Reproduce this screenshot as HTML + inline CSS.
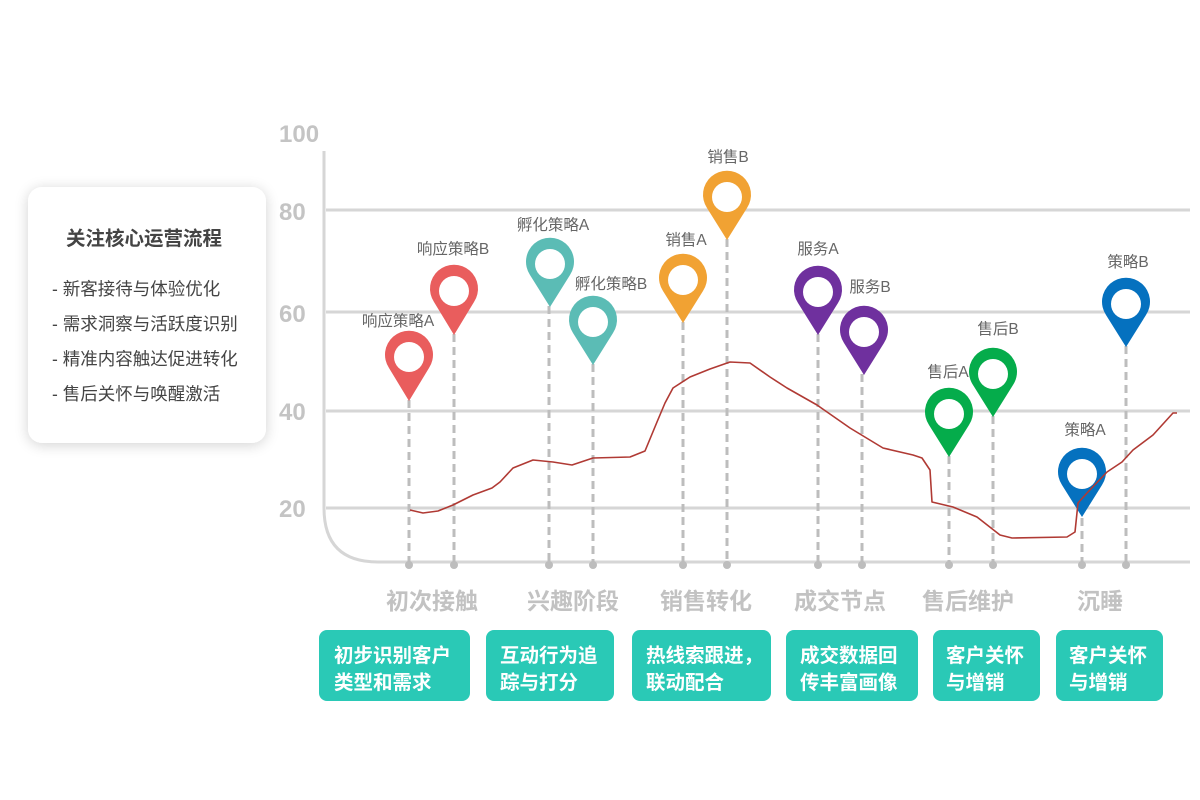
<!DOCTYPE html>
<html><head><meta charset="utf-8"><style>
html,body{margin:0;padding:0;background:#fff;width:1200px;height:800px;overflow:hidden}
svg{display:block}
</style></head><body>
<svg width="1200" height="800" viewBox="0 0 1200 800" xmlns="http://www.w3.org/2000/svg" font-family="Liberation Sans, Noto Sans CJK SC, sans-serif">
<defs>
<filter id="sh" x="-20%" y="-20%" width="140%" height="140%"><feGaussianBlur in="SourceAlpha" stdDeviation="7"/><feOffset dy="2"/><feComponentTransfer><feFuncA type="linear" slope="0.18"/></feComponentTransfer><feMerge><feMergeNode/><feMergeNode in="SourceGraphic"/></feMerge></filter>
</defs>
<rect x="28" y="187" width="238" height="256" rx="14" fill="#fff" filter="url(#sh)"/>
<text x="144" y="245" text-anchor="middle" font-size="19.5" font-weight="bold" fill="#444">关注核心运营流程</text>
<g font-size="17.5" fill="#444">
<text x="52" y="295">- 新客接待与体验优化</text>
<text x="52" y="330">- 需求洞察与活跃度识别</text>
<text x="52" y="365">- 精准内容触达促进转化</text>
<text x="52" y="400">- 售后关怀与唤醒激活</text>
</g>
<g font-size="24" font-weight="bold" fill="#c4c4c4">
<text x="279" y="142">100</text>
<text x="279" y="220">80</text>
<text x="279" y="322">60</text>
<text x="279" y="420">40</text>
<text x="279" y="517">20</text>
</g>
<g stroke="#d6d6d6" stroke-width="3" fill="none">
<line x1="326" y1="210" x2="1190" y2="210"/>
<line x1="326" y1="312" x2="1190" y2="312"/>
<line x1="326" y1="411" x2="1190" y2="411"/>
<line x1="326" y1="508" x2="1190" y2="508"/>
<path d="M324 151 L324 508 Q324 562 378 562 L1190 562"/>
</g>
<g stroke="#bdbdbd" stroke-width="3" stroke-dasharray="8 5">
<line x1="409" y1="400" x2="409" y2="562"/>
<line x1="454" y1="334" x2="454" y2="562"/>
<line x1="549" y1="306" x2="549" y2="562"/>
<line x1="593" y1="364" x2="593" y2="562"/>
<line x1="683" y1="322" x2="683" y2="562"/>
<line x1="727" y1="239" x2="727" y2="562"/>
<line x1="818" y1="334" x2="818" y2="562"/>
<line x1="862" y1="374" x2="862" y2="562"/>
<line x1="949" y1="456" x2="949" y2="562"/>
<line x1="993" y1="416" x2="993" y2="562"/>
<line x1="1082" y1="518" x2="1082" y2="562"/>
<line x1="1126" y1="346" x2="1126" y2="562"/>
</g>
<g fill="#bdbdbd">
<circle cx="409" cy="565" r="4"/><circle cx="454" cy="565" r="4"/><circle cx="549" cy="565" r="4"/><circle cx="593" cy="565" r="4"/><circle cx="683" cy="565" r="4"/><circle cx="727" cy="565" r="4"/><circle cx="818" cy="565" r="4"/><circle cx="862" cy="565" r="4"/><circle cx="949" cy="565" r="4"/><circle cx="993" cy="565" r="4"/><circle cx="1082" cy="565" r="4"/><circle cx="1126" cy="565" r="4"/>
</g>
<g>
<path d="M409 401 L389 368 A24 24 0 1 1 429 368 Z" fill="#e95d5d"/><circle cx="409" cy="357" r="15" fill="#fff"/>
<path d="M454 335 L434 302 A24 24 0 1 1 474 302 Z" fill="#e95d5d"/><circle cx="454" cy="291" r="15" fill="#fff"/>
<path d="M550 307 L530 275 A24 24 0 1 1 570 275 Z" fill="#5bbcb5"/><circle cx="550" cy="264" r="15" fill="#fff"/>
<path d="M593 365 L573 333 A24 24 0 1 1 613 333 Z" fill="#5bbcb5"/><circle cx="593" cy="322" r="15" fill="#fff"/>
<path d="M683 323 L663 291 A24 24 0 1 1 703 291 Z" fill="#f1a233"/><circle cx="683" cy="280" r="15" fill="#fff"/>
<path d="M727 240 L707 208 A24 24 0 1 1 747 208 Z" fill="#f1a233"/><circle cx="727" cy="197" r="15" fill="#fff"/>
<path d="M818 335 L798 303 A24 24 0 1 1 838 303 Z" fill="#6f309e"/><circle cx="818" cy="292" r="15" fill="#fff"/>
<path d="M864 375 L844 343 A24 24 0 1 1 884 343 Z" fill="#6f309e"/><circle cx="864" cy="332" r="15" fill="#fff"/>
<path d="M949 457 L929 425 A24 24 0 1 1 969 425 Z" fill="#05ac4b"/><circle cx="949" cy="414" r="15" fill="#fff"/>
<path d="M993 417 L973 385 A24 24 0 1 1 1013 385 Z" fill="#05ac4b"/><circle cx="993" cy="374" r="15" fill="#fff"/>
<path d="M1082 517 L1062 485 A24 24 0 1 1 1102 485 Z" fill="#0571bf"/><circle cx="1082" cy="474" r="15" fill="#fff"/>
<path d="M1126 347 L1106 315 A24 24 0 1 1 1146 315 Z" fill="#0571bf"/><circle cx="1126" cy="304" r="15" fill="#fff"/>
</g>
<g font-size="15.5" fill="#666" text-anchor="middle">
<text x="398" y="326">响应策略A</text>
<text x="453" y="254">响应策略B</text>
<text x="553" y="230">孵化策略A</text>
<text x="611" y="289">孵化策略B</text>
<text x="686" y="245">销售A</text>
<text x="728" y="162">销售B</text>
<text x="818" y="254">服务A</text>
<text x="870" y="292">服务B</text>
<text x="948" y="377">售后A</text>
<text x="998" y="334">售后B</text>
<text x="1085" y="435">策略A</text>
<text x="1128" y="267">策略B</text>
</g>
<polyline fill="none" stroke="#b03a34" stroke-width="1.6" stroke-linejoin="round" points="410,510 423,513 438,511 453,505 473,495 492,488 500,482 513,468 533,460 553,462 572,465 593,458 630,457 645,451 657,422 665,403 673,388 690,377 710,369 730,362 750,363 770,377 787,388 817,405 850,428 883,448 913,455 922,458 930,470 932,502 953,507 977,517 1000,535 1012,538 1067,537 1075,532 1078,503 1087,493 1107,472 1122,462 1133,450 1153,435 1173,413 1177,413"/>
<g font-size="23" font-weight="bold" fill="#c2c2c2" text-anchor="middle">
<text x="432" y="609">初次接触</text>
<text x="573" y="609">兴趣阶段</text>
<text x="706" y="609">销售转化</text>
<text x="840" y="609">成交节点</text>
<text x="968" y="609">售后维护</text>
<text x="1100" y="609">沉睡</text>
</g>
<g fill="#2ac9b6">
<rect x="319" y="630" width="151" height="71" rx="8"/>
<rect x="486" y="630" width="128" height="71" rx="8"/>
<rect x="632" y="630" width="139" height="71" rx="8"/>
<rect x="786" y="630" width="132" height="71" rx="8"/>
<rect x="933" y="630" width="107" height="71" rx="8"/>
<rect x="1056" y="630" width="107" height="71" rx="8"/>
</g>
<g font-size="19.5" font-weight="bold" fill="#fff">
<text x="334" y="662">初步识别客户</text><text x="334" y="689">类型和需求</text>
<text x="500" y="662">互动行为追</text><text x="500" y="689">踪与打分</text>
<text x="646" y="662">热线索跟进，</text><text x="646" y="689">联动配合</text>
<text x="800" y="662">成交数据回</text><text x="800" y="689">传丰富画像</text>
<text x="946" y="662">客户关怀</text><text x="946" y="689">与增销</text>
<text x="1069" y="662">客户关怀</text><text x="1069" y="689">与增销</text>
</g>
</svg>
</body></html>
